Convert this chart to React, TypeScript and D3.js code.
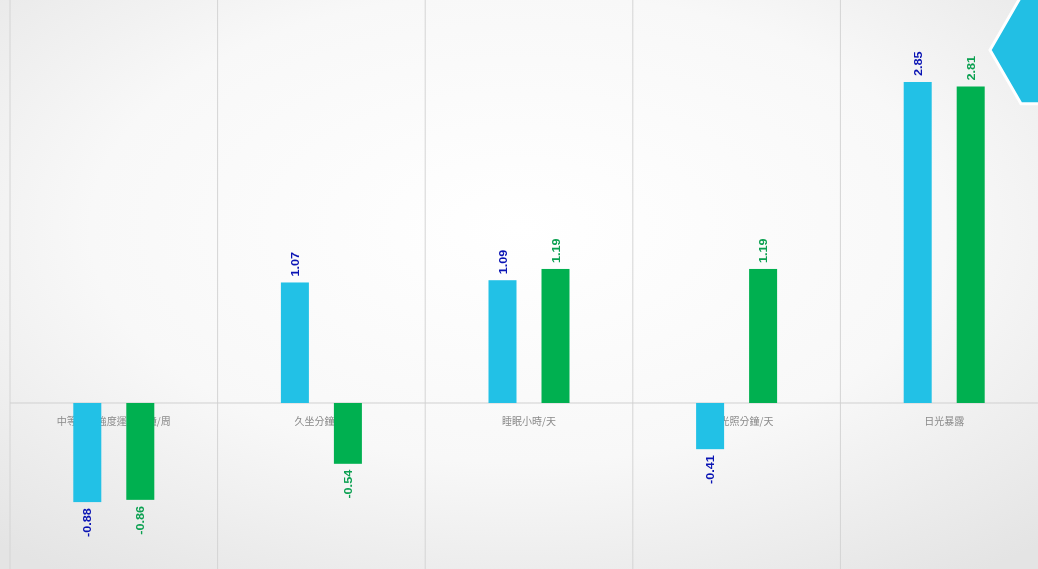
import React from "react";
import * as d3 from "d3";

const categories = ["中等至高強度運動分鐘/周", "久坐分鐘/天", "睡眠小時/天", "戶外光照分鐘/天", "日光暴露"];
const seriesA = [-0.88, 1.07, 1.09, -0.41, 2.85];
const seriesB = [-0.86, -0.54, 1.19, 1.19, 2.81];

const W = 1038;
const H = 569;

export default function App() {
  const x = d3.scaleBand<string>().domain(categories).range([10, 1048]).paddingInner(0).paddingOuter(0);
  const y = d3.scaleLinear().domain([-1.474, 3.578]).range([H, 0]);
  const bw = x.bandwidth();
  const barW = 28;
  const off = 26.5;
  const series = [
    { vals: seriesA, fill: "#22c1e6", text: "#0a14b4", dx: -off },
    { vals: seriesB, fill: "#00b050", text: "#0aa050", dx: off },
  ];
  const hex = d3.range(6).map((i) => {
    const a = (Math.PI / 3) * i;
    return [1052 + 62 * Math.cos(a), 50 + 62 * Math.sin(a)];
  });
  return (
    <div style={{ position: "fixed", left: 0, top: 0, width: W, height: H }}>
      <svg width={W} height={H} style={{ display: "block" }}>
        <defs>
          <radialGradient id="bg" cx="50%" cy="40%" r="75%">
            <stop offset="0%" stopColor="#ffffff" />
            <stop offset="55%" stopColor="#f8f8f8" />
            <stop offset="100%" stopColor="#e4e4e4" />
          </radialGradient>
        </defs>
        <rect x={0} y={0} width={W} height={H} fill="url(#bg)" />
        {categories.map((c) => (
          <line key={c} x1={x(c)!} x2={x(c)!} y1={0} y2={H} stroke="#d4d4d4" strokeWidth={1} />
        ))}
        <line x1={10} x2={W} y1={y(0)} y2={y(0)} stroke="#d0d0d0" strokeWidth={1} />
        {categories.map((c) => (
          <text
            key={"l" + c}
            x={x(c)! + bw / 2}
            y={y(0) + 22}
            textAnchor="middle"
            fontFamily="'Noto Sans CJK TC', 'Noto Sans CJK SC', sans-serif"
            fontSize={10}
            fill="#8a8a8a"
          >
            {c}
          </text>
        ))}
        {series.map((s, si) =>
          s.vals.map((v, i) => {
            const cx = x(categories[i])! + bw / 2 + s.dx;
            const top = Math.min(y(v), y(0));
            const h = Math.abs(y(v) - y(0));
            return <rect key={si + "-" + i} x={cx - barW / 2} y={top} width={barW} height={h} fill={s.fill} />;
          })
        )}
        {series.map((s, si) =>
          s.vals.map((v, i) => {
            const cx = x(categories[i])! + bw / 2 + s.dx;
            const pos = v >= 0;
            const ty = pos ? y(v) - 6 : y(v) + 6;
            return (
              <text
                key={"t" + si + "-" + i}
                transform={`translate(${cx + 4},${ty}) rotate(-90) scale(1.15,1)`}
                textAnchor={pos ? "start" : "end"}
                fontFamily="'Liberation Sans', Arial, sans-serif"
                fontWeight="bold"
                fontSize={11}
                fill={s.text}
              >
                {v.toFixed(2)}
              </text>
            );
          })
        )}
        <polygon points={hex.map((p) => p.join(",")).join(" ")} fill="#22bfe4" stroke="#ffffff" strokeWidth={3} />
      </svg>
    </div>
  );
}
